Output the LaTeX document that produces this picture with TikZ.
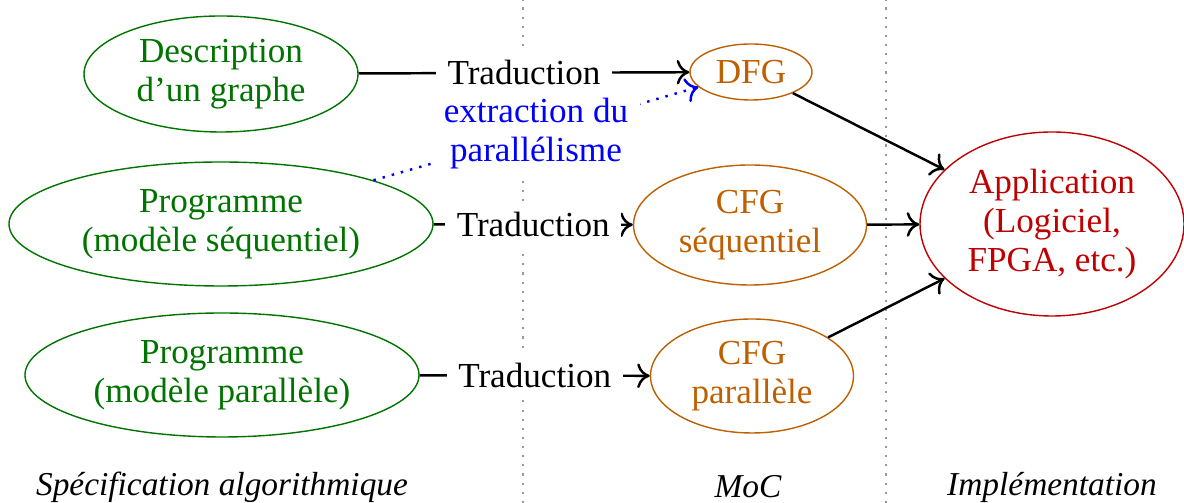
\documentclass[tikz,border=0pt]{standalone}
\usepackage{fontspec}
\setmainfont{Liberation Serif}
\usetikzlibrary{shapes.geometric, arrows.meta}

\tikzset{
    etape/.style={ellipse, draw, thin, inner sep=0pt, align=center},
    algo/.style={etape, draw=green!45!black, text=green!45!black},
    modele/.style={etape, draw=orange!75!black, text=orange!75!black},
    cible/.style={etape, draw=red!75!black, text=red!75!black},
    trad/.style={fill=white, text=black},
    fleche/.style={-{To[length=3.6pt, width=7pt]}, line width=0.7pt},
    separ/.style={gray!80, dotted, semithick},
    titre/.style={font=\fontsize{9.5}{11}\selectfont\itshape},
}

\begin{document}
\begin{tikzpicture}[font=\fontsize{10}{11}\selectfont]
        \useasboundingbox (0,0) rectangle (11.84,5.03);

        % separations
        \coordinate (s1b) at (5.23,0);
        \coordinate (s1h) at (5.23,5.03);
        \coordinate (s2b) at (8.86,0);
        \coordinate (s2h) at (8.86,5.03);
        \draw[separ] (s1b) -- (s1h);
        \draw[separ] (s2b) -- (s2h);

        \node[algo, minimum width=2.74cm, minimum height=1.16cm] (desc) at (2.21,4.29) {Description\\d’un graphe};
        \node[algo, minimum width=4.24cm, minimum height=1.24cm] (progseq) at (2.21,2.79) {Programme\\(modèle séquentiel)};
        \node[algo, minimum width=3.94cm, minimum height=1.24cm] (progpar) at (2.22,1.28) {Programme\\(modèle parallèle)};

        \node[modele, minimum width=1.22cm, minimum height=0.56cm] (dfg) at (7.51,4.31) {DFG};
        \node[modele, minimum width=2.33cm, minimum height=1.20cm] (cfgseq) at (7.50,2.78) {CFG\\séquentiel};
        \node[modele, minimum width=2.03cm, minimum height=1.14cm] (cfgpar) at (7.52,1.27) {CFG\\parallèle};

        \node[cible, minimum width=2.64cm, minimum height=1.84cm] (appli) at (10.52,2.79) {Application\\(Logiciel,\\FPGA, etc.)};

        \draw[fleche] (desc) -- node[trad] {Traduction} (dfg);
        \draw[fleche] (progseq) -- node[trad] {Traduction} (cfgseq);
        \draw[fleche] (progpar) -- node[trad] {Traduction} (cfgpar);
        \draw[fleche, blue, dotted] (progseq) -- node[fill=white, align=center] {extraction du\\parallélisme} (dfg);

        \draw[fleche] (dfg) -- (appli);
        \draw[fleche] (cfgseq) -- (appli);
        \draw[fleche] (cfgpar) -- (appli);

        \node[titre] (tspec) at (2.22,0.16) {Spécification algorithmique};
        \node[titre] (tmoc) at (7.48,0.16) {MoC};
        \node[titre] (timpl) at (10.52,0.16) {Implémentation};
    \end{tikzpicture}
\end{document}
